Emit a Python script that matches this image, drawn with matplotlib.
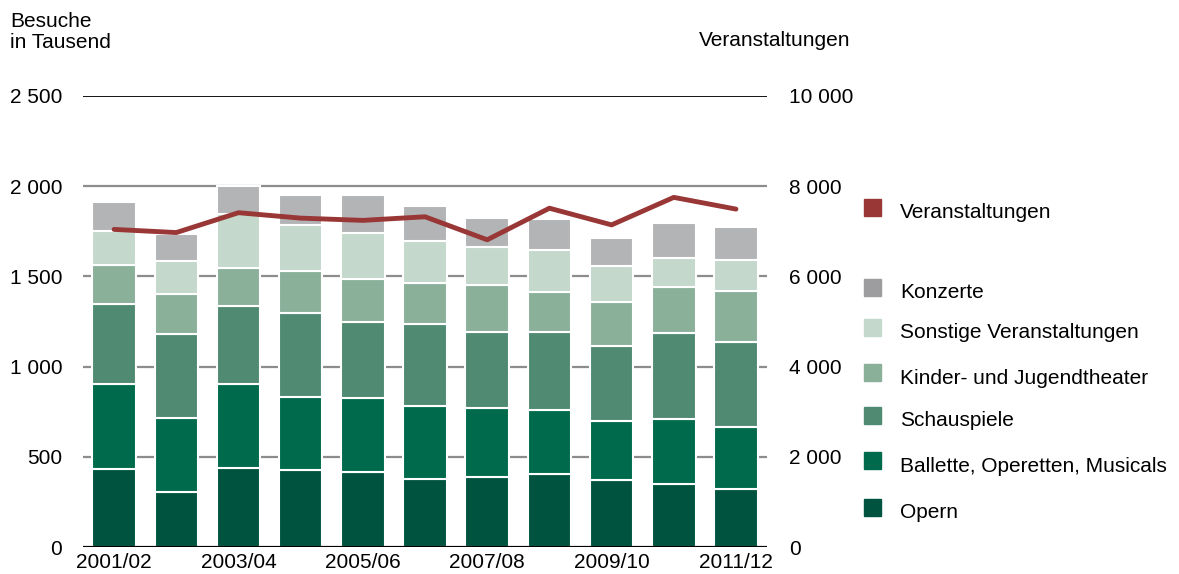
import numpy as np
import matplotlib
matplotlib.use("Agg")
import matplotlib.pyplot as plt
from matplotlib.patches import Rectangle

plt.rcParams["font.family"] = "Liberation Sans"
plt.rcParams.update({"font.size": 15})

seasons = ["2001/02", "2002/03", "2003/04", "2004/05", "2005/06", "2006/07",
           "2007/08", "2008/09", "2009/10", "2010/11", "2011/12"]

opern = [434, 305, 440, 427, 414, 379, 390, 405, 371, 349, 321]
ballette = [470, 410, 465, 403, 412, 404, 380, 353, 327, 359, 346]
schauspiele = [443, 464, 433, 469, 423, 451, 420, 434, 418, 478, 468]
kinder = [216, 222, 207, 231, 235, 228, 262, 223, 242, 253, 286]
sonstige = [189, 184, 301, 255, 258, 234, 209, 231, 201, 163, 171]
konzerte = [159, 152, 155, 166, 207, 194, 163, 170, 155, 194, 183]

veranstaltungen = [7040, 6970, 7410, 7290, 7240, 7320, 6810, 7510, 7140, 7750, 7490]

series = [
    ("Opern", opern, "#00543f"),
    ("Ballette, Operetten, Musicals", ballette, "#006b4c"),
    ("Schauspiele", schauspiele, "#508a72"),
    ("Kinder- und Jugendtheater", kinder, "#8ab09a"),
    ("Sonstige Veranstaltungen", sonstige, "#c4d8cc"),
    ("Konzerte", konzerte, "#b3b4b6"),
]
line_color = "#983735"

fig = plt.figure(figsize=(11.79, 5.74), dpi=100)
ax = fig.add_axes([0.0704, 0.047, 0.5802, 0.786])

x = np.arange(len(seasons))
bottom = np.zeros(len(seasons))
for name, vals, col in series:
    ax.bar(x, vals, 0.7, bottom=bottom, color=col, edgecolor="white",
           linewidth=1.5, zorder=2)
    bottom += np.array(vals)

for v in [500, 1000, 1500, 2000]:
    ax.axhline(v, color="#8c8c8c", lw=1.6, zorder=1)
ax.axhline(2500, color="black", lw=1.3, zorder=1)
ax.axhline(0, color="black", lw=2.3, zorder=4)

ax.set_xlim(-0.5, 10.5)
ax.set_ylim(0, 2500)
ax.set_yticks([0, 500, 1000, 1500, 2000, 2500])
ax.set_yticklabels(["0", "500", "1 000", "1 500", "2 000", "2 500"])
ax.set_xticks(x[::2])
ax.set_xticklabels(seasons[::2])
ax.tick_params(axis="y", length=0, pad=15)
ax.tick_params(axis="x", length=0, pad=4)
for s in ax.spines.values():
    s.set_visible(False)

ax2 = ax.twinx()
ax2.plot(x, veranstaltungen, color=line_color, lw=3.5, solid_capstyle="round", zorder=5)
ax2.set_ylim(0, 10000)
ax2.set_yticks([0, 2000, 4000, 6000, 8000, 10000])
ax2.set_yticklabels(["0", "2 000", "4 000", "6 000", "8 000", "10 000"])
ax2.tick_params(axis="y", length=0, pad=16)
for s in ax2.spines.values():
    s.set_visible(False)

fig.text(0.0085, 1 - 12 / 574, "Besuche\nin Tausend", ha="left", va="top",
         linespacing=1.1)
fig.text(850 / 1179, 1 - 40 / 574, "Veranstaltungen", ha="right", va="center")

# legend
legend_items = [("Veranstaltungen", line_color, 213)]
legend_cols = {"Konzerte": "#9d9d9f"}
ys = [293, 333, 378, 421, 466, 513]
for (name, vals, col), yp in zip(series[::-1], ys):
    legend_items.append((name, legend_cols.get(name, col), yp))
W, H = 1179, 574
for name, col, yp in legend_items:
    fig.patches.append(Rectangle((864 / W, 1 - (yp + 3) / H), 17 / W, 17 / H,
                                 transform=fig.transFigure, color=col))
    fig.text(900 / W, 1 - yp / H, name, ha="left", va="center")

fig.savefig("out.png", dpi=100)
